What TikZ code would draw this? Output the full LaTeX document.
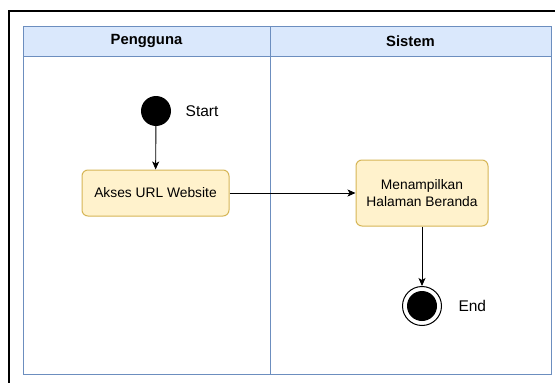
\documentclass[tikz,border=0pt]{standalone}
\usepackage{fontspec}
\setmainfont{Liberation Sans}
\usetikzlibrary{positioning,arrows.meta}

\definecolor{lanefill}{HTML}{DAE8FC}
\definecolor{laneline}{HTML}{6C8EBF}
\definecolor{actfill}{HTML}{FFF2CC}
\definecolor{actline}{HTML}{D6B656}

\begin{document}
\begin{tikzpicture}[x=1pt,y=-1pt,
    act/.style={draw=actline, fill=actfill, rounded corners=6pt, line width=1pt,
      align=center, font=\fontsize{13.8}{17}\selectfont, inner sep=0pt},
    flow/.style={-{Stealth[length=8pt,width=7pt,inset=2pt]}, line width=0.9pt}]
  \useasboundingbox (0,0) rectangle (555,383);
  \fill[white] (0,0) rectangle (555,383);
  % outer frame (cut off at right and bottom)
  \draw[line width=2pt] (9,395) -- (9,11) -- (565,11);
  % swimlanes
  \draw[laneline, fill=lanefill, line width=1pt] (23,26) rectangle (551,56);
  \draw[laneline, line width=1pt] (23,56) rectangle (551,374);
  \draw[laneline, line width=1pt] (270,26) -- (270,374);
  \node[font=\bfseries\fontsize{14.8}{17}\selectfont] (hUser) at (146.5,41) {Pengguna};
  \node[font=\bfseries\fontsize{14.8}{17}\selectfont] (hSys) at (410.5,41) {Sistem};
  % start
  \node[circle, fill=black, minimum size=30pt, inner sep=0pt] (start) at (156,111) {};
  \node[font=\fontsize{15.5}{18}\selectfont, right=11pt of start] {Start};
  % activities
  \node[act, minimum width=147pt, minimum height=46pt] (akses) at (155.5,193) {Akses URL Website};
  \node[act, minimum width=132pt, minimum height=66pt] (beranda) at (422,193)
    {Menampilkan\\Halaman Beranda};
  % end
  \node[circle, draw=black, line width=1pt, fill=white, minimum size=39pt, inner sep=0pt] (end) at (422,306) {};
  \node[circle, fill=black, minimum size=30pt, inner sep=0pt] at (end) {};
  \node[font=\fontsize{15.5}{18}\selectfont, right=13pt of end] {End};
  % flows
  \draw[flow] (start) -- (akses);
  \draw[flow] (akses) -- (beranda);
  \draw[flow] (beranda) -- (end);
\end{tikzpicture}
\end{document}
